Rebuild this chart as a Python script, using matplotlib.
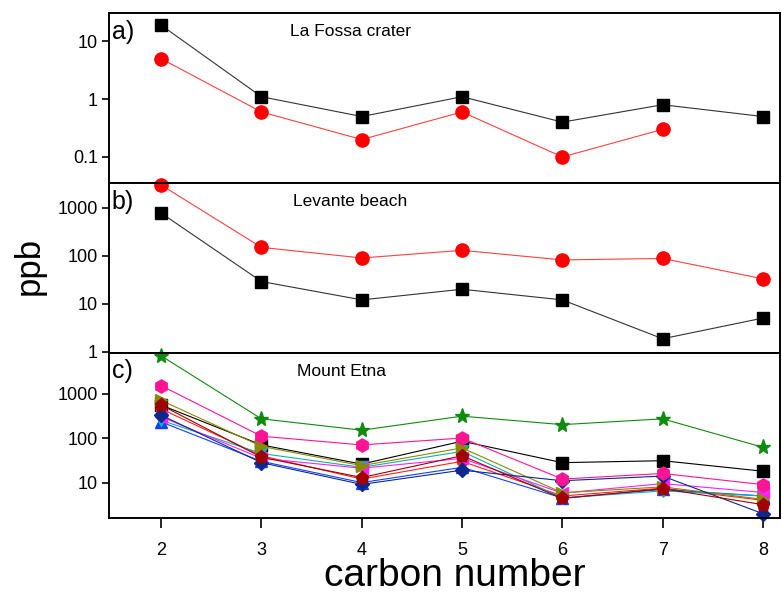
import matplotlib
matplotlib.use("Agg")
from matplotlib import pyplot as plt
from matplotlib.ticker import FixedLocator, NullLocator, FixedFormatter

plt.rcParams['font.family'] = ['Liberation Sans', 'DejaVu Sans']

carbonNumber = [2, 3, 4, 5, 6, 7, 8]

# a) La Fossa crater
fossaBlack = [19, 1.1, 0.5, 1.1, 0.4, 0.8, 0.5]
fossaRed = [5.0, 0.6, 0.2, 0.6, 0.1, 0.3, None]

# b) Levante beach
levanteRed = [3000, 150, 90, 130, 82, 88, 33]
levanteBlack = [780, 29, 12, 20, 12, 1.85, 5]

# c) Mount Etna
etnaBlackSquare = [550, 70, 26, 85, 28, 31, 18]
etnaRedCircle = [450, 40, 12, 30, 5.0, 7.5, 4.0]
etnaBlueUp = [230, 30, 10, 22, 4.5, 7.0, 5.0]
etnaCyanDown = [250, 45, 22, 50, 4.5, 6.5, 5.0]
etnaMagentaLeft = [300, 35, 21, 35, 5.8, 9.5, 6.0]
etnaOliveRight = [700, 65, 24, 60, 5.9, 8.0, 4.2]
etnaNavyDiamond = [325, 28, 9.1, 19, 11, 14, 2.0]
etnaPinkHexagon = [1500, 110, 70, 100, 12, 16, 9.0]
etnaGreenStar = [7000, 270, 150, 310, 200, 270, 62]
etnaWinePentagon = [550, 37, 13, 40, 4.4, 7.3, 3.2]

etnaSeries = [
    (etnaBlackSquare, "s", "#000000", 8),
    (etnaRedCircle, "o", "#ff2020", 7.5),
    (etnaBlueUp, "^", "#1040ff", 8),
    (etnaCyanDown, "v", "#10b0b0", 8),
    (etnaMagentaLeft, "<", "#ff20ff", 8),
    (etnaOliveRight, ">", "#8a8a00", 8.5),
    (etnaNavyDiamond, "D", "#0a2890", 7),
    (etnaPinkHexagon, "h", "#ff1493", 9.5),
    (etnaGreenStar, "*", "#108a10", 11),
    (etnaWinePentagon, "p", "#a00000", 9.5),
]

figure, axes = plt.subplots(3, 1, figsize=(7.82, 5.97), dpi=100, sharex=True,
                            gridspec_kw={"height_ratios": [170, 170, 165]})
plt.subplots_adjust(left=0.1394, right=0.9974, top=0.978, bottom=0.1323, hspace=0)

# panel a
axA = axes[0]
axA.plot(carbonNumber, fossaBlack, color="#333333", linewidth=0.8, marker="s",
         markersize=8.5, markerfacecolor="black", markeredgecolor="black", clip_on=False)
axA.plot(carbonNumber, fossaRed, color="#ff4040", linewidth=0.8, marker="o",
         markersize=9.5, markerfacecolor="red", markeredgecolor="red", clip_on=False)
axA.set_yscale("log")
axA.set_ylim(0.0353, 30.7)
axA.yaxis.set_major_locator(FixedLocator([0.1, 1, 10]))
axA.yaxis.set_major_formatter(FixedFormatter(["0.1", "1", "10"]))

# panel b
axB = axes[1]
axB.plot(carbonNumber, levanteBlack, color="#333333", linewidth=0.8, marker="s",
         markersize=8.5, markerfacecolor="black", markeredgecolor="black", clip_on=False)
axB.plot(carbonNumber, levanteRed, color="#ff4040", linewidth=0.8, marker="o",
         markersize=9.5, markerfacecolor="red", markeredgecolor="red", clip_on=False)
axB.set_yscale("log")
axB.set_ylim(0.93, 3300)
axB.yaxis.set_major_locator(FixedLocator([1, 10, 100, 1000]))
axB.yaxis.set_major_formatter(FixedFormatter(["1", "10", "100", "1000"]))

# panel c
axC = axes[2]
for values, marker, color, size in etnaSeries:
    axC.plot(carbonNumber, values, color=color, linewidth=0.8, marker=marker,
             markersize=size, markerfacecolor=color, markeredgecolor=color, clip_on=False)
axC.set_yscale("log")
axC.set_ylim(1.6, 8100)
axC.yaxis.set_major_locator(FixedLocator([10, 100, 1000]))
axC.yaxis.set_major_formatter(FixedFormatter(["10", "100", "1000"]))

titles = ["La Fossa crater", "Levante beach", "Mount Etna"]
titleX = [0.36, 0.36, 0.347]
letters = ["a)", "b)", "c)"]
for axis, title, tx, letter in zip(axes, titles, titleX, letters):
    axis.set_xlim(1.48, 8.17)
    axis.yaxis.set_minor_locator(NullLocator())
    axis.tick_params(axis="y", direction="out", length=5, width=1.2, labelsize=13, pad=3)
    axis.tick_params(axis="x", direction="out", length=7, width=1.2, labelsize=13, pad=10)
    for spine in axis.spines.values():
        spine.set_linewidth(1.4)
    axis.text(tx, 0.89, title, transform=axis.transAxes, ha="center", va="center", fontsize=12.5)
    axis.text(0.004, 0.89, letter, transform=axis.transAxes, ha="left", va="center", fontsize=18)

axA.tick_params(axis="x", bottom=False)
axB.tick_params(axis="x", bottom=False)
axC.xaxis.set_major_locator(FixedLocator(carbonNumber))
axC.set_xlabel("carbon number", fontsize=28)
axC.xaxis.set_label_coords(0.516, -0.24)
figure.text(0.038, 0.555, "ppb", rotation=90, ha="center", va="center", fontsize=25)

figure.savefig("out.png", dpi=100)
